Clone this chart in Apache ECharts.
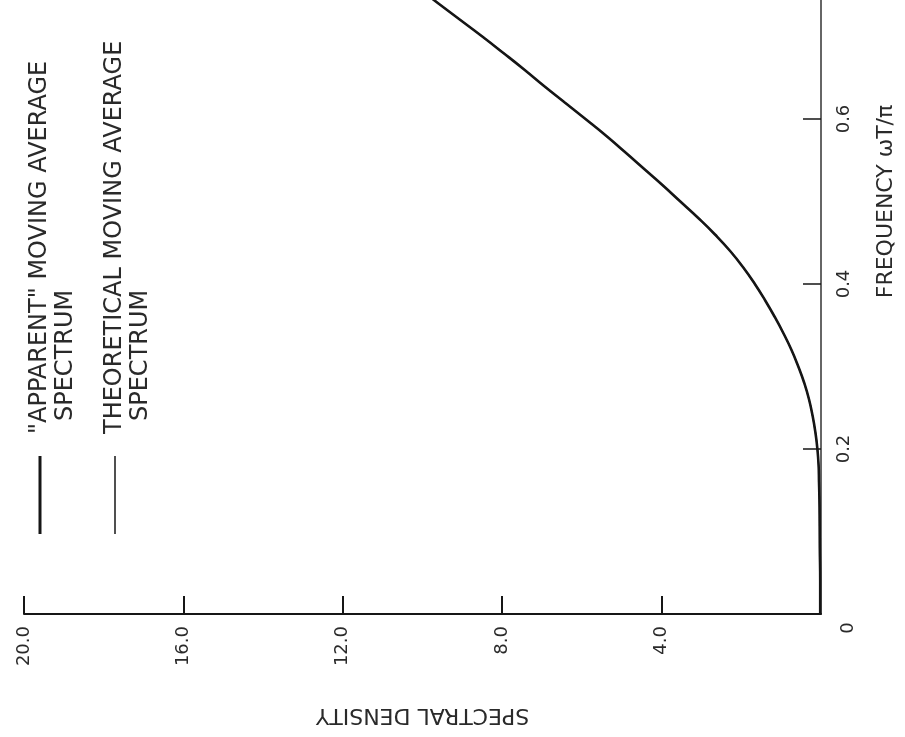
<!DOCTYPE html>
<html>
<head>
<meta charset="utf-8">
<script src="https://cdn.jsdelivr.net/npm/echarts@6/dist/echarts.min.js"></script>
<style>
  html, body { margin: 0; padding: 0; background: #ffffff; }
  #chart { width: 905px; height: 737px; }
</style>
</head>
<body>
<div id="chart"></div>
<script>
// Frequency (ωT/π) samples along the curve
const frequency = [0.00, 0.04, 0.08, 0.12, 0.14, 0.16, 0.18, 0.20, 0.22, 0.24,
                   0.26, 0.28, 0.30, 0.32, 0.34, 0.36, 0.38, 0.40, 0.42, 0.44,
                   0.46, 0.48, 0.50, 0.52, 0.54, 0.56, 0.58, 0.60, 0.62, 0.64,
                   0.66, 0.68, 0.70, 0.72, 0.74, 0.76];
// Spectral density at each frequency
const apparentDensity    = [0.02, 0.02, 0.03, 0.035, 0.04, 0.05, 0.06, 0.09, 0.14, 0.21,
                            0.30, 0.42, 0.57, 0.74, 0.94, 1.16, 1.40, 1.66, 1.95, 2.28,
                            2.66, 3.08, 3.53, 3.98, 4.45, 4.92, 5.40, 5.91, 6.43, 6.95,
                            7.45, 7.97, 8.50, 9.05, 9.60, 10.14];
const theoreticalDensity = [0.02, 0.02, 0.03, 0.035, 0.04, 0.05, 0.06, 0.09, 0.14, 0.21,
                            0.30, 0.42, 0.57, 0.74, 0.94, 1.16, 1.40, 1.66, 1.95, 2.28,
                            2.66, 3.08, 3.53, 3.98, 4.45, 4.92, 5.40, 5.91, 6.43, 6.95,
                            7.45, 7.97, 8.50, 9.05, 9.60, 10.14];

// Tick positions
const densityTicks = [4, 8, 12, 16, 20];
const frequencyTicks = [0.2, 0.4, 0.6, 0.8, 1.0];
const cornerLabel = '0';

const legendEntries = [
  { main: '"APPARENT" MOVING AVERAGE', sub: 'SPECTRUM' },
  { main: 'THEORETICAL MOVING AVERAGE', sub: 'SPECTRUM' }
];

const FONT = '"DejaVu Sans", "Noto Sans", sans-serif';
const INK = '#161616';
const TEXT = '#2a2a2a';

const chart = echarts.init(document.getElementById('chart'), null, { renderer: 'canvas' });

function pairs(dens) {
  return frequency.map((f, i) => [dens[i], f]);
}

const legendGraphics = [];
const legendX = [40, 115];
const lineWidths = [3, 1.5];
legendEntries.forEach((e, i) => {
  const x = legendX[i];
  legendGraphics.push({
    type: 'line',
    shape: { x1: x, y1: 456, x2: x, y2: 534 },
    style: { stroke: INK, lineWidth: lineWidths[i] }
  });
  legendGraphics.push({
    type: 'text',
    x: x, y: 434,
    rotation: Math.PI / 2,
    style: {
      text: e.main, fill: TEXT, font: '24px ' + FONT,
      textAlign: 'left', textVerticalAlign: 'middle'
    }
  });
  legendGraphics.push({
    type: 'text',
    x: x + 26, y: 421,
    rotation: Math.PI / 2,
    style: {
      text: e.sub, fill: TEXT, font: '24px ' + FONT,
      textAlign: 'left', textVerticalAlign: 'middle'
    }
  });
});

legendGraphics.push({
  type: 'text',
  x: 848, y: 628,
  rotation: Math.PI / 2,
  style: {
    text: cornerLabel, fill: TEXT, font: '18px ' + FONT,
    textAlign: 'center', textVerticalAlign: 'middle'
  }
});

const option = {
  backgroundColor: '#ffffff',
  animation: false,
  grid: {
    left: 24, right: 84, top: -211, bottom: 123,
    containLabel: false, outerBoundsMode: 'none'
  },
  xAxis: {
    type: 'value',
    min: 0, max: 20, interval: 4,
    inverse: true,
    position: 'bottom',
    axisLine: { show: true, onZero: false, lineStyle: { color: INK, width: 2 } },
    axisTick: {
      show: true, inside: true, length: 18,
      customValues: densityTicks,
      lineStyle: { color: INK, width: 2 }
    },
    axisLabel: {
      show: true, rotate: 90, margin: 12,
      customValues: densityTicks,
      formatter: v => v.toFixed(1),
      color: TEXT, fontSize: 18, fontFamily: FONT
    },
    splitLine: { show: false },
    name: 'SPECTRAL DENSITY',
    nameLocation: 'middle',
    nameRotate: 180,
    nameGap: 90,
    nameTextStyle: { color: TEXT, fontSize: 22, fontFamily: FONT }
  },
  yAxis: {
    type: 'value',
    min: 0, max: 1.0, interval: 0.2,
    position: 'right',
    axisLine: { show: true, onZero: false, lineStyle: { color: '#333', width: 1.5 } },
    axisTick: {
      show: true, inside: true, length: 18,
      customValues: frequencyTicks,
      lineStyle: { color: INK, width: 1.5 }
    },
    axisLabel: {
      show: true, rotate: 90, margin: 14,
      customValues: frequencyTicks,
      formatter: v => v.toFixed(1),
      color: TEXT, fontSize: 18, fontFamily: FONT
    },
    splitLine: { show: false },
    name: 'FREQUENCY ωT/π',
    nameLocation: 'middle',
    nameRotate: 90,
    nameGap: 54,
    nameTextStyle: { color: TEXT, fontSize: 22, fontFamily: FONT }
  },
  series: [
    {
      name: '"APPARENT" MOVING AVERAGE SPECTRUM',
      type: 'line',
      data: pairs(apparentDensity),
      smooth: 0.5,
      showSymbol: false,
      lineStyle: { color: INK, width: 2.6 },
      z: 3
    },
    {
      name: 'THEORETICAL MOVING AVERAGE SPECTRUM',
      type: 'line',
      data: pairs(theoreticalDensity),
      smooth: 0.5,
      showSymbol: false,
      lineStyle: { color: INK, width: 1.4 },
      z: 4
    }
  ],
  graphic: legendGraphics
};

chart.setOption(option);
</script>
</body>
</html>
